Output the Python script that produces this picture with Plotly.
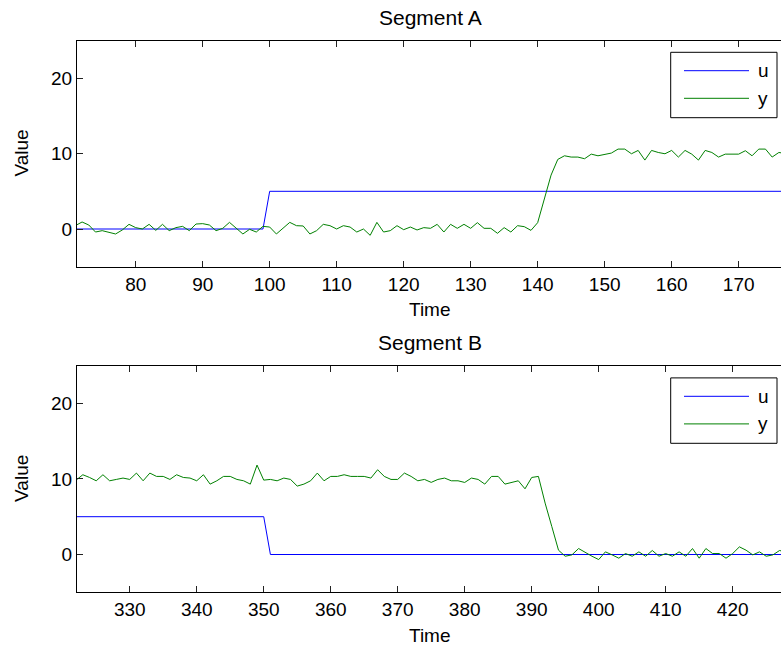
import plotly.graph_objects as go

# ---------------- data ----------------
t_top = list(range(71, 178))
u_top = [0 if t <= 99 else 5 for t in t_top]
y_top = [
    0.45, 0.93, 0.53, -0.40, -0.22, -0.40, -0.66, -0.13, 0.62, 0.18,
    0.00, 0.62, -0.18, 0.62, -0.22, 0.18, 0.35, -0.22, 0.66, 0.71,
    0.53, -0.22, 0.09, 0.88, 0.09, -0.66, -0.04, -0.40, 0.35, 0.26,
    -0.66, 0.09, 0.88, 0.44, 0.40, -0.66, -0.22, 0.62, 0.44, 0.00,
    0.44, 0.26, -0.40, 0.00, -0.84, 0.88, -0.40, -0.22, 0.44, -0.09,
    0.26, -0.13, 0.18, 0.09, 0.62, -0.40, 0.62, 0.09, 0.62, 0.09,
    0.84, 0.09, 0.09, -0.57, 0.18, -0.40, 0.44, 0.31, -0.18, 0.84,
    4.10, 7.15, 9.23, 9.71, 9.54, 9.54, 9.32, 9.93, 9.71, 9.89,
    10.07, 10.60, 10.60, 9.98, 10.42, 9.14, 10.42, 10.15, 9.98, 10.42,
    9.54, 10.42, 9.93, 9.14, 10.42, 10.15, 9.54, 9.93, 9.93, 9.93,
    10.38, 9.71, 10.60, 10.60, 9.54, 10.15, 10.00,
]

t_bot = list(range(322, 429))
u_bot = [5 if t <= 350 else 0 for t in t_bot]
y_bot = [
    9.84, 10.55, 10.19, 9.75, 10.55, 9.75, 9.93, 10.11, 9.93,
    10.77, 9.75, 10.77, 10.33, 10.33, 9.93, 10.55, 10.19, 10.11, 9.75,
    10.55, 9.31, 9.75, 10.33, 10.33, 9.93, 9.75, 9.31, 11.83, 9.84,
    9.93, 9.75, 10.11, 9.93, 9.05, 9.31, 9.75, 10.77, 9.75, 10.33,
    10.33, 10.55, 10.33, 10.33, 10.33, 10.11, 11.21, 10.33, 9.93, 9.93,
    10.77, 10.33, 9.75, 9.93, 9.54, 9.93, 10.11, 9.75, 9.75, 9.53,
    10.11, 9.93, 9.31, 10.33, 10.33, 9.31, 9.53, 9.75, 8.69, 10.19,
    10.33, 6.80, 3.70, 0.57, -0.23, -0.05, 0.79, 0.26, -0.23, -0.67,
    0.35, -0.05, -0.49, 0.13, -0.23, 0.35, -0.23, 0.53, -0.23, 0.13,
    -0.23, 0.35, -0.23, 0.79, -0.49, 0.79, 0.13, 0.13, -0.49, 0.13,
    1.01, 0.57, -0.05, 0.35, -0.23, -0.05, 0.53, 0.30,
]

titles = ["Segment A", "Segment B"]
series_names = ["u", "y"]
x_ranges = [[71.24, 176.32], [322.13, 427.21]]
y_range = [-5, 25]
y_ticks = [0, 10, 20]

# ---------------- layout helpers ----------------
W, H = 781, 650
L = 77
FONT = "Liberation Sans, Arial, Helvetica, sans-serif"
FS = 19
FS_TITLE = 21
BLUE = "#0000ff"
GREEN = "#008000"


def px2x(px):
    return (px - L) / (W - L)


def py2y(py):
    return (H - py) / H


# pixel boxes of the two axes (top, bottom)
boxes = [(40.5, 266.7), (365.5, 592.3)]

fig = go.Figure()
fig.add_trace(go.Scatter(x=t_top, y=u_top, mode="lines", name=series_names[0],
                         line=dict(color=BLUE, width=1), xaxis="x", yaxis="y"))
fig.add_trace(go.Scatter(x=t_top, y=y_top, mode="lines", name=series_names[1],
                         line=dict(color=GREEN, width=1), xaxis="x", yaxis="y"))
fig.add_trace(go.Scatter(x=t_bot, y=u_bot, mode="lines", name=series_names[0],
                         line=dict(color=BLUE, width=1), xaxis="x2", yaxis="y2"))
fig.add_trace(go.Scatter(x=t_bot, y=y_bot, mode="lines", name=series_names[1],
                         line=dict(color=GREEN, width=1), xaxis="x2", yaxis="y2"))

axis_common = dict(showgrid=False, zeroline=False, showline=True, linecolor="black",
                   linewidth=1, ticks="inside", ticklen=6, tickcolor="#222",
                   tickfont=dict(family=FONT, size=FS, color="black"))

layout = dict(
    width=W, height=H,
    margin=dict(l=L, r=0, t=0, b=0, pad=0),
    paper_bgcolor="white", plot_bgcolor="white",
    showlegend=False,
    font=dict(family=FONT, size=FS, color="black"),
)

annotations = []
shapes = []
for i, (top, bot) in enumerate(boxes):
    xa = "xaxis" if i == 0 else "xaxis2"
    ya = "yaxis" if i == 0 else "yaxis2"
    xr = "x" if i == 0 else "x2"
    yr = "y" if i == 0 else "y2"
    dom = [py2y(bot), py2y(top)]
    layout[xa] = dict(domain=[0, 1], anchor=yr, range=x_ranges[i], tick0=0, dtick=10,
                      mirror="ticks", **axis_common)
    layout[ya] = dict(domain=dom, anchor=xr, range=y_range, tickvals=y_ticks,
                      mirror=False, **axis_common)
    # right-hand ticks of the box (its right edge lies at the window edge)
    ra = "yaxis3" if i == 0 else "yaxis4"
    layout[ra] = dict(overlaying=yr, side="right", anchor=xr, range=y_range,
                      tickvals=y_ticks, ticks="inside", ticklen=6, tickcolor="#222",
                      showticklabels=False, showline=False, showgrid=False,
                      zeroline=False)
    # titles & axis labels
    mid_x = 430
    annotations.append(dict(text=titles[i], x=px2x(mid_x), y=py2y(top - 23),
                            xref="paper", yref="paper", showarrow=False,
                            xanchor="center", yanchor="middle",
                            font=dict(family=FONT, size=FS_TITLE, color="black")))
    annotations.append(dict(text="Time", x=px2x(mid_x), y=py2y(bot + 43),
                            xref="paper", yref="paper", showarrow=False,
                            xanchor="center", yanchor="middle",
                            font=dict(family=FONT, size=FS, color="black")))
    annotations.append(dict(text="Value", x=px2x(22), y=py2y((top + bot) / 2),
                            xref="paper", yref="paper", showarrow=False,
                            textangle=-90, xanchor="center", yanchor="middle",
                            font=dict(family=FONT, size=FS, color="black")))
    # legend box
    lt = top + 11.8 if i == 0 else top + 12.4
    lb = lt + 65.4
    shapes.append(dict(type="rect", xref="paper", yref="paper",
                       x0=px2x(670.7), x1=px2x(777), y0=py2y(lb), y1=py2y(lt),
                       line=dict(color="black", width=1), fillcolor="white", layer="above"))
    for j, (nm, col) in enumerate(zip(series_names, [BLUE, GREEN])):
        ly = lt + 18.4 + j * 27.6
        shapes.append(dict(type="line", xref="paper", yref="paper",
                           x0=px2x(684), x1=px2x(749), y0=py2y(ly), y1=py2y(ly),
                           line=dict(color=col, width=1), layer="above"))
        annotations.append(dict(text=nm, x=px2x(756), y=py2y(ly), xref="paper",
                                yref="paper", showarrow=False, xanchor="left",
                                yanchor="middle",
                                font=dict(family=FONT, size=FS, color="black")))

layout["annotations"] = annotations
layout["shapes"] = shapes
fig.update_layout(**layout)

fig.write_html("out.html")
